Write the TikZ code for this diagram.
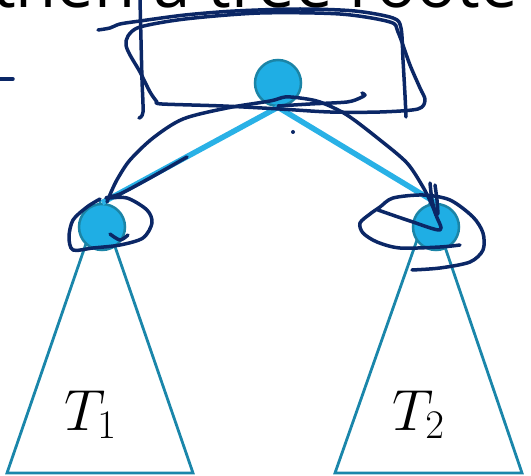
\RequirePackage{fix-cm}
\documentclass[tikz,border=0pt]{standalone}
\usepackage{fontspec}
\newfontfamily\slidefont{Open Sans}
\usepackage{amsmath}
\definecolor{nodefill}{HTML}{1FAEE4}
\definecolor{nodeline}{HTML}{1B84A6}
\definecolor{edgeblue}{HTML}{29B1E6}
\definecolor{treeline}{HTML}{1A86AA}
\definecolor{inkblue}{HTML}{0B2766}
\begin{document}
\begin{tikzpicture}[x=1pt,y=-1pt,
    vertex/.style={circle,fill=nodefill,draw=nodeline,line width=2.5pt,minimum size=46pt,inner sep=0pt},
    treeedge/.style={draw=edgeblue,line width=5.5pt},
    subtree/.style={draw=treeline,line width=2.8pt,line join=miter},
    ink/.style={draw=inkblue,line width=3.5pt,line cap=round,line join=round},
    bigmath/.style={anchor=base west,inner sep=0pt,font=\fontsize{58}{60}\selectfont}]
    \useasboundingbox (0,0) rectangle (531,476);
    \clip (0,0) rectangle (531,476);
    \node[anchor=base west,inner sep=0pt,font=\slidefont\fontsize{67}{80}\selectfont] (heading) at (-8,8) {then a tree roote};
    \draw[ink] (0,79) -- (13,79);
    \draw[subtree] (100,203) -- (7,473) -- (193,473) -- cycle;
    \draw[subtree] (430,203) -- (335,473) -- (522,473) -- cycle;
    \node[bigmath] (tone) at (64,430) {$T_1$};
    \node[bigmath] (ttwo) at (392,430) {$T_2$};
    \node[vertex] (root) at (278,83) {};
    \node[vertex] (left) at (102,227) {};
    \node[vertex] (right) at (436,227) {};
    \draw[treeedge] (root.south) -- (left.north);
    \draw[treeedge] (root.south) -- (right.north);
    \draw[ink] plot[smooth,tension=0.5] coordinates {(140,0) (141,40) (142,80) (143,112) (139,118)};
    \draw[ink] plot[smooth,tension=0.5] coordinates {(98,30) (110,28) (120,24) (140,21) (185,15) (235,11) (300,9) (355,11) (393,18) (401,28) (403,60) (405,95) (406,117)};
    \draw[ink] plot[smooth,tension=0.5] coordinates {(157,102) (150,92) (140,72) (130,55) (126,45) (128,36) (140,27) (185,19) (260,13) (340,14) (390,22) (398,32) (410,65) (420,88) (425,100) (418,109) (380,112) (330,112) (280,109) (223,106) (162,104) (157,102)};
    \draw[ink] plot[smooth,tension=0.5] coordinates {(107,202) (112,190) (118,178) (130,160) (153,138) (183,119) (227,108) (270,101) (285,97) (300,98) (320,102) (347,115) (380,140) (407,163) (423,187) (432,205) (436,215)};
    \draw[ink] plot[smooth,tension=0.5] coordinates {(187,157) (150,178) (120,194) (106,198) (127,198) (147,210) (152,223) (143,238) (120,245) (93,248) (73,250) (69,237) (73,220) (87,207) (100,199)};
    \draw[ink] plot[smooth,tension=0.5] coordinates {(110,234) (120,240) (128,235)};
    \draw[ink] plot[smooth,tension=0.5] coordinates {(278,106) (310,104) (347,102) (360,98) (365,95) (362,93)};
    \fill[inkblue] (293,132) circle (2pt);
    \draw[ink] plot[smooth,tension=0.5] coordinates {(430,183) (432,200) (436,215) (440,230) (410,221) (378,210)};
    \draw[ink] plot[smooth,tension=0.5] coordinates {(435,185) (437,200) (438,214)};
    \draw[ink] plot[smooth,tension=0.5] coordinates {(460,245) (440,247) (400,248) (377,242) (363,233) (360,223) (370,214) (380,207) (393,198) (423,195) (450,200) (473,217) (483,233) (483,250) (470,262) (440,268) (412,270)};
\end{tikzpicture}
\end{document}
